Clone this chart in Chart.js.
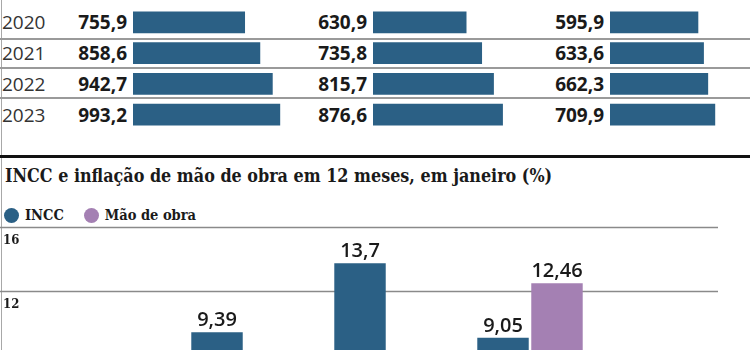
<!DOCTYPE html>
<html lang="pt-BR">
<head>
  <meta charset="UTF-8">
  <title>Custo da construção e INCC</title>
  <script src="https://cdn.jsdelivr.net/npm/chart.js"></script>
  <style>
    html, body { margin: 0; padding: 0; background: #fff; }
    body { width: 750px; height: 350px; overflow: hidden; position: relative; font-family: 'Open Sans', sans-serif; color: #222; }
    .abs { position: absolute; }
    .vline { left: 1px; top: 0; width: 1px; height: 350px; background: #a8a8a8; }
    .sep { left: 0; width: 750px; height: 2px; background: #9a9a9a; }
    .thick { left: 0; top: 155px; width: 750px; height: 3px; background: #111; }
    .row { left: 0; width: 750px; height: 30.75px; display: flex; align-items: center; }
    .ano { position: absolute; left: 2px; font-size: 19px; color: #333; }
    .valor { position: absolute; font-size: 19px; font-weight: 700; color: #1a1a1a; text-align: right; width: 80px; }
    .titulo { left: 5px; top: 164px; font-family: 'DejaVu Serif Condensed', 'DejaVu Serif', serif; font-weight: 700; font-size: 17.8px; line-height: 24px; color: #1a1a1a; white-space: nowrap; }
    .legenda { top: 204px; left: 4px; display: flex; align-items: center; font-family: 'DejaVu Serif Condensed', 'DejaVu Serif', serif; font-weight: 700; font-size: 14.5px; line-height: 22px; color: #1a1a1a; }
    .bola { width: 15px; height: 15px; border-radius: 50%; display: inline-block; margin-right: 6px; }
  </style>
</head>
<body>
  <div class="abs vline"></div>
  <div class="abs sep" style="top:38px"></div>
  <div class="abs sep" style="top:67px"></div>
  <div class="abs sep" style="top:97px"></div>
  <div id="tabela"></div>

  <canvas id="col1" class="abs" width="160" height="123" style="left:133px; top:7px"></canvas>
  <canvas id="col2" class="abs" width="160" height="123" style="left:373px; top:7px"></canvas>
  <canvas id="col3" class="abs" width="125" height="123" style="left:610px; top:7px"></canvas>

  <div class="abs thick"></div>
  <div class="abs titulo">INCC e inflação de mão de obra em 12 meses, em janeiro (%)</div>
  <div class="abs legenda">
    <span class="bola" style="background:#2b6085"></span><span style="margin-right:20px">INCC</span>
    <span class="bola" style="background:#a480b3"></span><span>Mão de obra</span>
  </div>

  <canvas id="graficoIncc" class="abs" width="750" height="290" style="left:0; top:216px"></canvas>

  <script>
    // tabela superior
    const anos = ['2020', '2021', '2022', '2023'];
    const coluna1 = [755.9, 858.6, 942.7, 993.2];
    const coluna2 = [630.9, 735.8, 815.7, 876.6];
    const coluna3 = [595.9, 633.6, 662.3, 709.9];

    // grafico de barras
    const meses = ['jan/2020', 'jan/2021', 'jan/2022', 'jan/2023'];
    const incc = [4.1, 9.39, 13.7, 9.05];
    const maoDeObra = [4.6, 4.0, 6.2, 12.46];
    const ticksY = [0, 4, 8, 12, 16];

    const AZUL = '#2b6085';
    const ROXO = '#a480b3';
    const PX_POR_UNIDADE = 0.1482;

    const fmt = v => String(v).replace('.', ',');

    // textos da tabela
    const tabela = document.getElementById('tabela');
    anos.forEach((ano, i) => {
      const top = 7 + i * 30.75;
      tabela.innerHTML += `<div class="abs row" style="top:${top}px">
        <span class="ano">${ano}</span>
        <span class="valor" style="left:47px">${fmt(coluna1[i])}</span>
        <span class="valor" style="left:287px">${fmt(coluna2[i])}</span>
        <span class="valor" style="left:524px">${fmt(coluna3[i])}</span>
      </div>`;
    });

    function barrasHorizontais(id, valores) {
      const canvas = document.getElementById(id);
      new Chart(canvas, {
        type: 'bar',
        data: {
          labels: anos,
          datasets: [{ data: valores, backgroundColor: AZUL, borderWidth: 0, categoryPercentage: 1, barPercentage: 0.715 }]
        },
        options: {
          indexAxis: 'y',
          responsive: false,
          animation: false,
          layout: { padding: 0 },
          plugins: { legend: { display: false }, tooltip: { enabled: false } },
          scales: {
            x: { display: false, min: 0, max: canvas.width / PX_POR_UNIDADE },
            y: { display: false }
          }
        }
      });
    }
    barrasHorizontais('col1', coluna1);
    barrasHorizontais('col2', coluna2);
    barrasHorizontais('col3', coluna3);

    // grade estendida e rotulos
    const extras = {
      id: 'extras',
      beforeDatasetsDraw(chart) {
        const { ctx } = chart;
        const y = chart.scales.y;
        ctx.save();
        y.ticks.forEach(t => {
          const py = Math.round(y.getPixelForValue(t.value)) + 0.5;
          ctx.strokeStyle = '#8a8a8a';
          ctx.lineWidth = 1.5;
          ctx.beginPath();
          ctx.moveTo(0, py);
          ctx.lineTo(718, py);
          ctx.stroke();
          ctx.fillStyle = '#1a1a1a';
          ctx.font = "bold 13px 'DejaVu Serif Condensed', 'DejaVu Serif', serif";
          ctx.textAlign = 'left';
          ctx.textBaseline = 'alphabetic';
          ctx.fillText(String(t.value), 3, py + 16);
        });
        ctx.restore();
      },
      afterDatasetsDraw(chart) {
        const { ctx } = chart;
        ctx.save();
        ctx.fillStyle = '#1a1a1a';
        ctx.font = "600 20px 'Open Sans', sans-serif";
        ctx.textAlign = 'center';
        ctx.textBaseline = 'alphabetic';
        chart.data.datasets.forEach((ds, di) => {
          chart.getDatasetMeta(di).data.forEach((bar, i) => {
            ctx.fillText(fmt(ds.data[i]), bar.x, bar.y - 6);
          });
        });
        ctx.restore();
      }
    };

    new Chart(document.getElementById('graficoIncc'), {
      type: 'bar',
      data: {
        labels: meses,
        datasets: [
          { label: 'INCC', data: incc, backgroundColor: AZUL, borderWidth: 0 },
          { label: 'Mão de obra', data: maoDeObra, backgroundColor: ROXO, borderWidth: 0 }
        ]
      },
      options: {
        responsive: false,
        animation: false,
        categoryPercentage: 0.755,
        barPercentage: 0.953,
        layout: { padding: { left: 29.5, right: 148.5, top: 10.5, bottom: 23.5 } },
        plugins: { legend: { display: false }, tooltip: { enabled: false } },
        scales: {
          x: { display: false },
          y: { display: false, min: 0, max: 16, afterBuildTicks: s => { s.ticks = ticksY.map(v => ({ value: v })); } }
        }
      },
      plugins: [extras]
    });
  </script>
</body>
</html>
